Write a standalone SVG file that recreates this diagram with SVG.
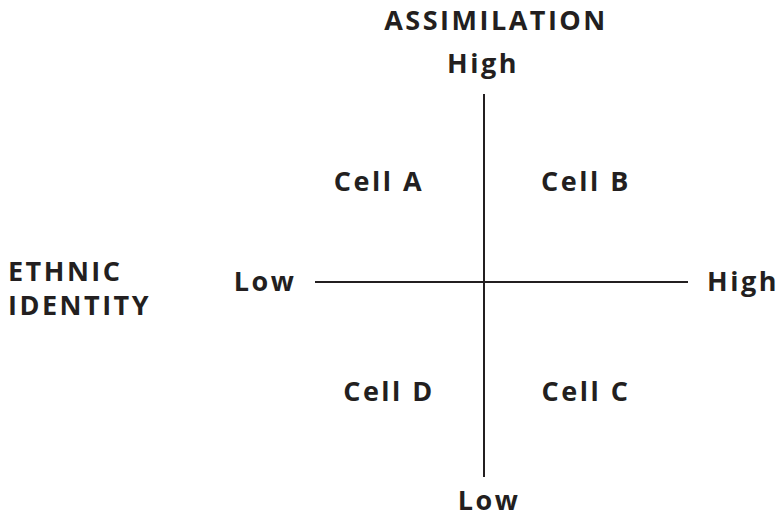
<svg xmlns="http://www.w3.org/2000/svg" width="783" height="518" viewBox="0 0 783 518">
<style>
text{font-family:"Open Sans","Liberation Sans",sans-serif;font-weight:bold;font-size:27px;fill:#231f20;letter-spacing:2.5px}
.ax{stroke:#231f20;stroke-width:2;fill:none}
</style>
<rect width="783" height="518" fill="#fff"/>
<g id="connectors">
<line class="ax" x1="484" y1="94" x2="484" y2="477"/>
<line class="ax" x1="315" y1="282" x2="688" y2="282"/>
</g>
<g id="title"><text x="496" y="30" text-anchor="middle">ASSIMILATION</text></g>
<g id="high-top"><text x="483" y="73" text-anchor="middle">High</text></g>
<g id="cell-a"><text x="379" y="191" text-anchor="middle">Cell A</text></g>
<g id="cell-b"><text x="586" y="191" text-anchor="middle">Cell B</text></g>
<g id="ethnic"><text x="8" y="281">ETHNIC</text><text x="8" y="315">IDENTITY</text></g>
<g id="low-left"><text x="265" y="291" text-anchor="middle">Low</text></g>
<g id="high-right"><text x="743" y="291" text-anchor="middle">High</text></g>
<g id="cell-d"><text x="389" y="401" text-anchor="middle">Cell D</text></g>
<g id="cell-c"><text x="586" y="401" text-anchor="middle">Cell C</text></g>
<g id="low-bottom"><text x="489" y="510" text-anchor="middle">Low</text></g>
</svg>
